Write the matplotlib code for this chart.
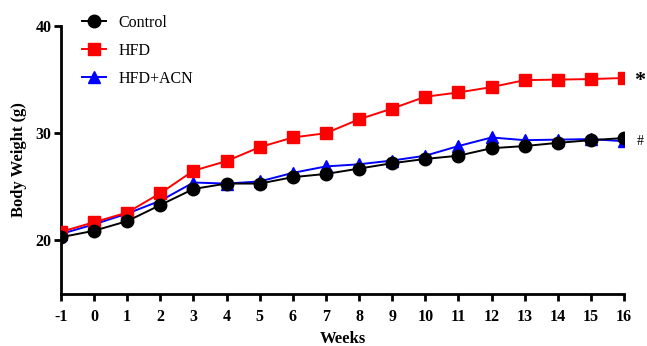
import matplotlib
matplotlib.use("Agg")
import matplotlib.pyplot as plt

# datos
weeks = list(range(-1, 17))
control = [20.3, 20.9, 21.8, 23.3, 24.8, 25.3, 25.3, 25.9, 26.2, 26.7, 27.2, 27.6, 27.9, 28.6, 28.8, 29.1, 29.35, 29.55]
hfd = [20.8, 21.7, 22.6, 24.4, 26.5, 27.4, 28.7, 29.6, 30.0, 31.3, 32.3, 33.4, 33.8, 34.3, 34.95, 35.0, 35.05, 35.15]
hfd_acn = [20.6, 21.5, 22.5, 23.7, 25.4, 25.3, 25.5, 26.3, 26.9, 27.1, 27.45, 27.9, 28.8, 29.6, 29.35, 29.4, 29.45, 29.25]
y_ticks = [20, 30, 40]

plt.rcParams['font.family'] = ['Liberation Serif', 'DejaVu Serif']
plt.rcParams['axes.unicode_minus'] = False

fig = plt.figure(figsize=(6.47, 3.46), dpi=100)
ax = fig.add_axes([61 / 647, 52 / 346, 563 / 647, 268 / 346])

ax.plot(weeks, hfd_acn, color='blue', marker='^', ms=8, lw=1.4, label='HFD+ACN', zorder=3)
ax.plot(weeks, hfd, color='red', marker='s', ms=8, lw=1.4, label='HFD', zorder=4)
ax.plot(weeks, control, color='black', marker='o', ms=9, lw=1.4, label='Control', zorder=5)

ax.set_xlim(-1, 16)
ax.set_ylim(15, 40)
ax.set_xticks(weeks)
ax.set_yticks(y_ticks)
for s in ['top', 'right']:
    ax.spines[s].set_visible(False)
for s in ['left', 'bottom']:
    ax.spines[s].set_linewidth(2)
ax.tick_params(width=2, length=5, labelsize=11.5)
ax.tick_params(axis='x', pad=6)
ax.tick_params(axis='y', pad=2)
for lbl in ax.get_xticklabels() + ax.get_yticklabels():
    lbl.set_fontweight('bold')

ax.set_xlabel('Weeks', fontsize=12, fontweight='bold', labelpad=4)
ax.set_ylabel('Body Weight (g)', fontsize=12, fontweight='bold', labelpad=6)

# marcas de significancia
ax.annotate('*', xy=(1.0, hfd[-1]), xycoords=('axes fraction', 'data'), xytext=(7, -2),
            textcoords='offset points', fontsize=16, fontweight='bold', va='center', ha='left',
            annotation_clip=False)
ax.annotate('#', xy=(1.0, hfd_acn[-1]), xycoords=('axes fraction', 'data'), xytext=(9, 0),
            textcoords='offset points', fontsize=10, va='center', ha='left', annotation_clip=False)

h, l = ax.get_legend_handles_labels()
ax.legend(h[::-1], l[::-1], loc='upper left', bbox_to_anchor=(0.012, 1.095), frameon=False,
          fontsize=11.5, handlelength=1.5, handletextpad=0.8, labelspacing=0.75)

fig.savefig('out.png', dpi=100)
